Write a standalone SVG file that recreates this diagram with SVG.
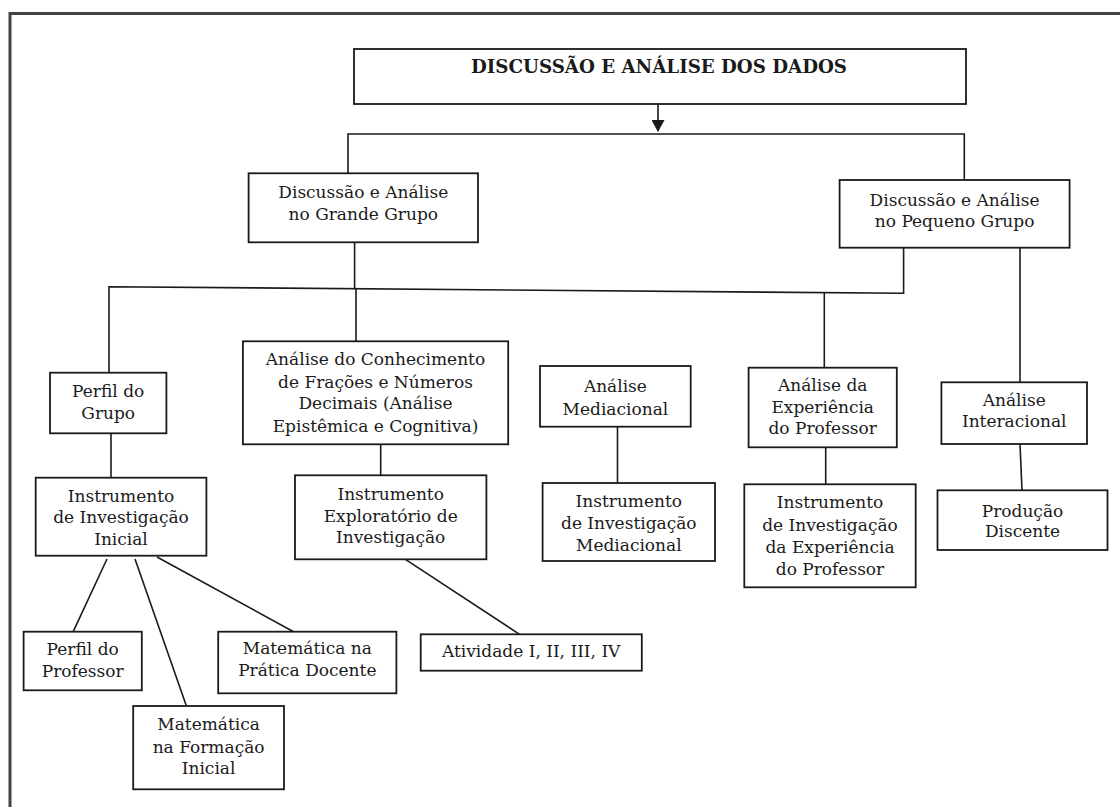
<svg xmlns="http://www.w3.org/2000/svg" width="1120" height="807" viewBox="0 0 1120 807">
<defs>
<style>
.box{fill:#fff;stroke:#1a1a1a;stroke-width:1.8}
.t{font-family:"DejaVu Serif","Liberation Serif",serif;font-size:17px;fill:#1a1a1a;text-anchor:middle}
.title{font-family:"DejaVu Serif","Liberation Serif",serif;font-size:18px;font-weight:bold;fill:#1a1a1a;text-anchor:middle}
.c{fill:none;stroke:#1a1a1a;stroke-width:1.6}
</style>
<marker id="arr" viewBox="0 0 12 13" refX="11" refY="6.5" markerWidth="12" markerHeight="13" markerUnits="userSpaceOnUse" orient="auto">
<path d="M0,0 L12,6.5 L0,13 z" fill="#1a1a1a"/>
</marker>
</defs>
<rect width="1120" height="807" fill="#fff"/>
<g id="frame">
<path d="M10,807 V13.5 H1120" fill="none" stroke="#444" stroke-width="3"/>
</g>
<g id="connectors">
<path class="c" d="M658,104 V131" marker-end="url(#arr)"/>
<path class="c" d="M348,173 V134 H964.3 V180"/>
<path class="c" d="M354.6,242 V288"/>
<path class="c" d="M109,373 V286.7 L903.6,293.3 V247.7"/>
<path class="c" d="M356,288 V341"/>
<path class="c" d="M824.3,292.5 V367.7"/>
<path class="c" d="M1020,247.7 V382.3"/>
<path class="c" d="M111,433 V477.7"/>
<path class="c" d="M380.7,444 V475.3"/>
<path class="c" d="M617.5,426.7 V483"/>
<path class="c" d="M825.7,447.3 V484.3"/>
<path class="c" d="M1020,444 L1022,490.3"/>
<path class="c" d="M107,559 L73.2,631.7"/>
<path class="c" d="M135,559 L186.4,706"/>
<path class="c" d="M157,557 L293.6,631.7"/>
<path class="c" d="M405.4,559.3 L519.6,634.3"/>
</g>
<g id="n-root">
<rect class="box" x="354" y="49" width="612" height="55"/>
<text class="title" x="659" y="73" textLength="376" lengthAdjust="spacingAndGlyphs">DISCUSSÃO E ANÁLISE DOS DADOS</text>
</g>
<g id="n-grande">
<rect class="box" x="248.6" y="173.3" width="229.4" height="69"/>
<text class="t" x="363.3" y="198.3">Discussão e Análise</text>
<text class="t" x="363.3" y="220">no Grande Grupo</text>
</g>
<g id="n-pequeno">
<rect class="box" x="839.6" y="180" width="230" height="67.7"/>
<text class="t" x="954.6" y="205.7">Discussão e Análise</text>
<text class="t" x="954.6" y="226.7">no Pequeno Grupo</text>
</g>
<g id="n-perfil-grupo">
<rect class="box" x="50" y="372.7" width="116.4" height="60.6"/>
<text class="t" x="108.2" y="396.7">Perfil do</text>
<text class="t" x="108.2" y="419.3">Grupo</text>
</g>
<g id="n-conhecimento">
<rect class="box" x="242.9" y="341.3" width="265.3" height="103"/>
<text class="t" x="375.5" y="365">Análise do Conhecimento</text>
<text class="t" x="375.5" y="387.7">de Frações e Números</text>
<text class="t" x="375.5" y="409.3">Decimais (Análise</text>
<text class="t" x="375.5" y="431.7">Epistêmica e Cognitiva)</text>
</g>
<g id="n-mediacional">
<rect class="box" x="540" y="366" width="150.7" height="60.7"/>
<text class="t" x="615.4" y="391.7">Análise</text>
<text class="t" x="615.4" y="415">Mediacional</text>
</g>
<g id="n-experiencia">
<rect class="box" x="748.6" y="367.7" width="148.2" height="79.6"/>
<text class="t" x="822.7" y="390.7">Análise da</text>
<text class="t" x="822.7" y="412.7">Experiência</text>
<text class="t" x="822.7" y="434">do Professor</text>
</g>
<g id="n-interacional">
<rect class="box" x="941.4" y="382.3" width="145.6" height="61.7"/>
<text class="t" x="1014.2" y="406">Análise</text>
<text class="t" x="1014.2" y="427">Interacional</text>
</g>
<g id="n-instr-inicial">
<rect class="box" x="35.7" y="477.7" width="170.7" height="78"/>
<text class="t" x="121" y="501.7">Instrumento</text>
<text class="t" x="121" y="523.3">de Investigação</text>
<text class="t" x="121" y="545">Inicial</text>
</g>
<g id="n-instr-exploratorio">
<rect class="box" x="295" y="475.3" width="191.4" height="84"/>
<text class="t" x="390.7" y="500">Instrumento</text>
<text class="t" x="390.7" y="521.7">Exploratório de</text>
<text class="t" x="390.7" y="543.3">Investigação</text>
</g>
<g id="n-instr-mediacional">
<rect class="box" x="542.6" y="483" width="172.4" height="78"/>
<text class="t" x="628.8" y="507">Instrumento</text>
<text class="t" x="628.8" y="529">de Investigação</text>
<text class="t" x="628.8" y="551">Mediacional</text>
</g>
<g id="n-instr-experiencia">
<rect class="box" x="744.3" y="484.3" width="171.4" height="103"/>
<text class="t" x="830" y="508.3">Instrumento</text>
<text class="t" x="830" y="531">de Investigação</text>
<text class="t" x="830" y="553">da Experiência</text>
<text class="t" x="830" y="574.5">do Professor</text>
</g>
<g id="n-producao">
<rect class="box" x="937.5" y="490.3" width="170" height="59.7"/>
<text class="t" x="1022.5" y="516.7">Produção</text>
<text class="t" x="1022.5" y="537.3">Discente</text>
</g>
<g id="n-perfil-professor">
<rect class="box" x="23.6" y="631.7" width="118.2" height="58.6"/>
<text class="t" x="82.7" y="655">Perfil do</text>
<text class="t" x="82.7" y="677.3">Professor</text>
</g>
<g id="n-pratica">
<rect class="box" x="218.2" y="631.7" width="178.2" height="61.6"/>
<text class="t" x="307.3" y="654.3">Matemática na</text>
<text class="t" x="307.3" y="676">Prática Docente</text>
</g>
<g id="n-atividade">
<rect class="box" x="420.7" y="634.3" width="221.1" height="36.4"/>
<text class="t" x="531.2" y="657.3">Atividade I, II, III, IV</text>
</g>
<g id="n-formacao">
<rect class="box" x="133.2" y="706" width="150.8" height="83.3"/>
<text class="t" x="208.6" y="730">Matemática</text>
<text class="t" x="208.6" y="752.7">na Formação</text>
<text class="t" x="208.6" y="774">Inicial</text>
</g>
</svg>
